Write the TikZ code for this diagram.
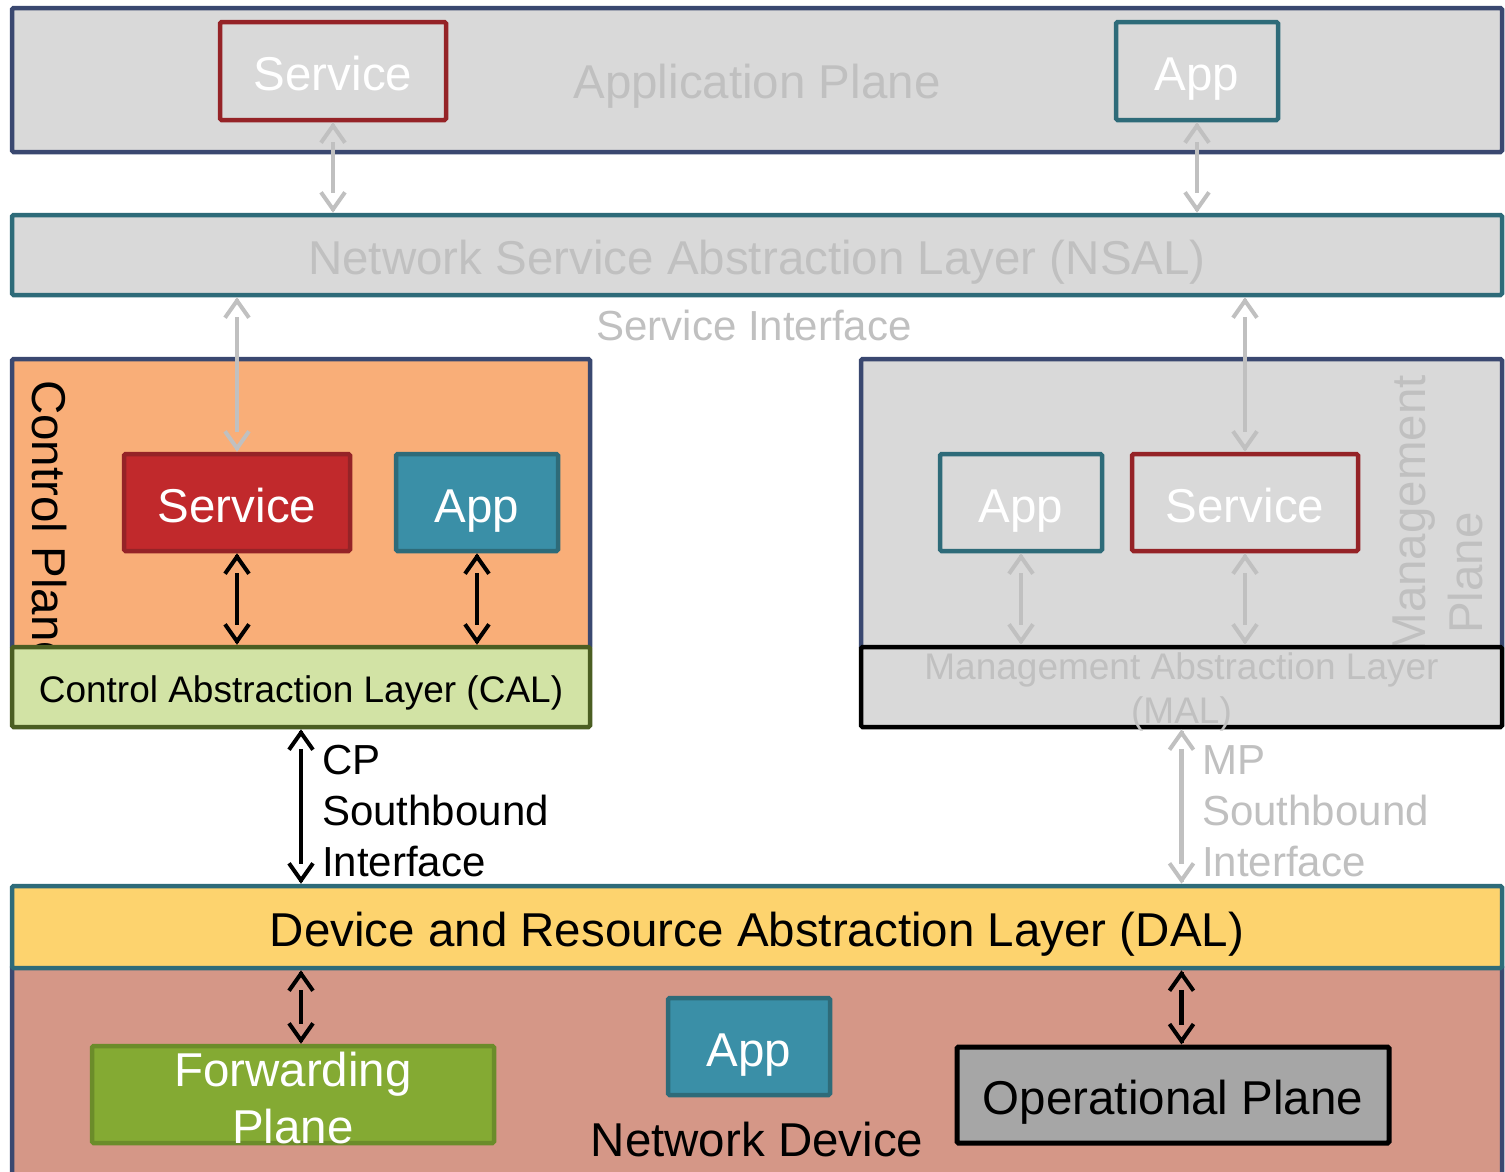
\documentclass[tikz,border=0pt]{standalone}
\usepackage{fontspec}
\setmainfont{Liberation Sans}
\usetikzlibrary{arrows.meta,calc}
\definecolor{navy}{RGB}{58,72,112}
\definecolor{bgrey}{RGB}{217,217,217}
\definecolor{redb}{RGB}{149,35,39}
\definecolor{redf}{RGB}{193,41,44}
\definecolor{tealb}{RGB}{46,107,121}
\definecolor{tealf}{RGB}{58,143,167}
\definecolor{orangef}{RGB}{249,174,120}
\definecolor{calf}{RGB}{210,227,165}
\definecolor{calb}{RGB}{75,94,34}
\definecolor{dalf}{RGB}{253,211,110}
\definecolor{ndf}{RGB}{213,151,135}
\definecolor{fpf}{RGB}{132,170,51}
\definecolor{fpb}{RGB}{107,140,42}
\definecolor{opf}{RGB}{166,166,166}
\definecolor{ltxt}{RGB}{192,192,192}
\newcommand\fsA{\fontsize{47.5}{57}\selectfont}
\newcommand\fsB{\fontsize{42}{51}\selectfont}
\newcommand\fsC{\fontsize{37}{44.5}\selectfont}
% double-headed connector with a gap between the heads and the shaft
\newcommand\dblarrow[3]{%
  \draw[draw=#3, line width=4.5pt, shorten <=20pt, shorten >=20pt] (#1) -- (#2);
  \draw[draw=#3, line width=4pt, -tipb] ($(#1)!2pt!(#2)$) -- (#1);
  \draw[draw=#3, line width=4pt, -tipb] ($(#2)!2pt!(#1)$) -- (#2);}
\begin{document}
\begin{tikzpicture}[x=1pt,y=-1pt,
  box/.style={draw, line width=4.5pt, rounded corners=1.5pt, inner sep=0pt},
  bigtxt/.style={font=\fsA, text height=39pt, text depth=0pt},
  caltxt/.style={font=\fsC, text height=30pt, text depth=0pt},
  lbl/.style={inner sep=0pt},
  tipb/.tip={Straight Barb[length=17pt,width=24pt]},
]
\clip (0,0) rectangle (1505,1171);
\fill[white] (0,0) rectangle (1505,1171);

% Application plane
\node[box, draw=navy, fill=bgrey, minimum width=1490pt, minimum height=144pt] (ap) at (757,80) {};
\node[lbl, font=\fsA, text=ltxt, anchor=base] (apl) at (757,98) {Application Plane};
\node[box, draw=redb, fill=bgrey, text=white, bigtxt, minimum width=226pt, minimum height=98pt] (aps) at (333,71) {Service};
\node[box, draw=tealb, fill=bgrey, text=white, bigtxt, minimum width=162pt, minimum height=98pt] (apa) at (1197,71) {App};

% NSAL
\node[box, draw=tealb, fill=bgrey, text=ltxt, bigtxt, minimum width=1490pt, minimum height=80pt] (nsal) at (757,255) {Network Service Abstraction Layer (NSAL)};
\node[lbl, font=\fsB, text=ltxt, anchor=base] (si) at (754,340) {Service Interface};

% Control plane
\node[box, draw=navy, fill=orangef, minimum width=578pt, minimum height=289pt] (cp) at (301,503.5) {};
\node[lbl, font=\fsA, rotate=-90, anchor=base west] (cpl) at (32,380) {Control Plane};
\node[box, draw=redb, fill=redf, text=white, bigtxt, minimum width=226pt, minimum height=97pt] (cps) at (237,502.5) {Service};
\node[box, draw=tealb, fill=tealf, text=white, bigtxt, minimum width=162pt, minimum height=97pt] (cpa) at (477,502.5) {App};
\node[box, draw=calb, fill=calf, caltxt, minimum width=578pt, minimum height=80pt] (cal) at (301,687) {Control Abstraction Layer (CAL)};

% Management plane
\node[box, draw=navy, fill=bgrey, minimum width=641pt, minimum height=289pt] (mp) at (1181.5,503.5) {};
\node[lbl, font=\fsA, text=ltxt, rotate=90, anchor=base east] (mpl1) at (1425,375) {Management};
\node[lbl, font=\fsA, text=ltxt, rotate=90, anchor=base east] (mpl2) at (1482,512) {Plane};
\node[box, draw=tealb, fill=bgrey, text=white, bigtxt, minimum width=162pt, minimum height=97pt] (mpa) at (1021,502.5) {App};
\node[box, draw=redb, fill=bgrey, text=white, bigtxt, minimum width=226pt, minimum height=97pt] (mps) at (1245,502.5) {Service};
\node[box, draw=black, fill=bgrey, minimum width=641pt, minimum height=80pt] (mal) at (1181.5,687) {};
\node[lbl, font=\fsC, text=ltxt, align=center] (mall) at (1181.5,692) {Management Abstraction Layer\\(MAL)};

% Southbound labels
\node[lbl, font=\fsB, align=left, anchor=west] (cpsb) at (322,811) {CP\\Southbound\\Interface};
\node[lbl, font=\fsB, text=ltxt, align=left, anchor=west] (mpsb) at (1202,811) {MP\\Southbound\\Interface};

% Network device
\node[box, draw=navy, fill=ndf, minimum width=1490pt, minimum height=224pt] (nd) at (757,1078) {};
\node[box, draw=tealb, fill=dalf, bigtxt, minimum width=1490pt, minimum height=82pt] (dal) at (757,927) {Device and Resource Abstraction Layer (DAL)};
\node[box, draw=fpb, fill=fpf, minimum width=402pt, minimum height=97pt] (fp) at (293,1094.5) {};
\node[lbl, text=white, font=\fsA, align=center] (fpl) at (293,1098.5) {Forwarding\\Plane};
\node[box, draw=tealb, fill=tealf, text=white, bigtxt, minimum width=162pt, minimum height=97pt] (nda) at (749,1046.5) {App};
\node[lbl, font=\fsA, anchor=base] (ndl) at (757,1156) {Network Device};
\node[box, draw=black, line width=5pt, fill=opf, bigtxt, minimum width=432pt, minimum height=96pt] (op) at (1173,1095) {Operational Plane};

% Connector end points
\coordinate (e1) at (aps.south |- nsal.north);
\coordinate (e2) at (apa.south |- nsal.north);
\coordinate (e3) at (cps.north |- nsal.south);
\coordinate (e4) at (mps.north |- nsal.south);
\coordinate (e5) at (cps.south |- cal.north);
\coordinate (e6) at (cpa.south |- cal.north);
\coordinate (e7) at (mpa.south |- mal.north);
\coordinate (e8) at (mps.south |- mal.north);
\coordinate (e9) at (cal.south |- dal.north);
\coordinate (e10) at (mal.south |- dal.north);
\coordinate (s11) at (dal.south -| cal.south);
\coordinate (e11) at (fp.north -| cal.south);
\coordinate (s12) at (dal.south -| mal.south);
\coordinate (e12) at (op.north -| mal.south);

% Connectors
\dblarrow{aps.south}{e1}{ltxt}
\dblarrow{apa.south}{e2}{ltxt}
\dblarrow{e3}{cps.north}{ltxt}
\dblarrow{e4}{mps.north}{ltxt}
\dblarrow{cps.south}{e5}{black}
\dblarrow{cpa.south}{e6}{black}
\dblarrow{mpa.south}{e7}{ltxt}
\dblarrow{mps.south}{e8}{ltxt}
\dblarrow{cal.south}{e9}{black}
\dblarrow{mal.south}{e10}{ltxt}
\dblarrow{s11}{e11}{black}
\dblarrow{s12}{e12}{black}
\end{tikzpicture}
\end{document}
